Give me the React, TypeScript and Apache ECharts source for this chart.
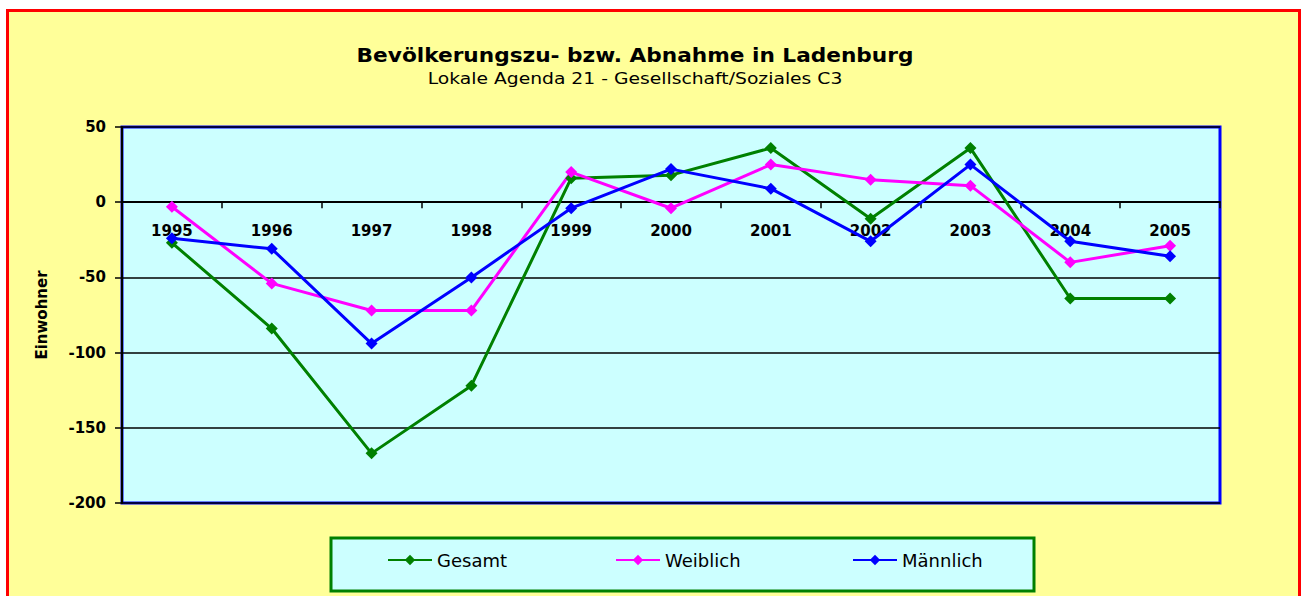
import React, { useEffect, useRef } from "react";
import * as echarts from "echarts";

const years = ["1995", "1996", "1997", "1998", "1999", "2000", "2001", "2002", "2003", "2004", "2005"];
const gesamt = [-27, -84, -167, -122, 16, 18, 36, -11, 36, -64, -64];
const weiblich = [-3, -54, -72, -72, 20, -4, 25, 15, 11, -40, -29];
const maennlich = [-24, -31, -94, -50, -4, 22, 9, -26, 25, -26, -36];
const seriesNames = ["Gesamt", "Weiblich", "Männlich"];
const seriesColors = ["#008000", "#FF00FF", "#0000FF"];

const FONT = "'DejaVu Sans', sans-serif";

export default function App() {
  const ref = useRef<HTMLDivElement>(null);
  useEffect(() => {
    if (!ref.current) return;
    const chart = echarts.init(ref.current, null, { renderer: "svg" });
    const data = [gesamt, weiblich, maennlich];
    const legendLefts = [382, 610, 847];
    chart.setOption({
      animation: false,
      backgroundColor: "#FFFFFF",
      graphic: [
        {
          type: "rect",
          z: -100,
          silent: true,
          shape: { x: 7.5, y: 10.5, width: 1292, height: 620 },
          style: { fill: "#FFFF99", stroke: "#FF0000", lineWidth: 3 },
        },
        {
          type: "rect",
          z: -50,
          silent: true,
          shape: { x: 331, y: 538, width: 703, height: 53 },
          style: { fill: "#CCFFFF", stroke: "#008000", lineWidth: 3 },
        },
        {
          type: "text",
          x: 635,
          y: 46,
          scaleX: 1.14,
          style: {
            text: "Bevölkerungszu- bzw. Abnahme in Ladenburg",
            font: `bold 19px ${FONT}`,
            fill: "#000",
            textAlign: "center",
          },
        },
        {
          type: "text",
          x: 635,
          y: 71,
          scaleX: 1.25,
          style: {
            text: "Lokale Agenda 21 - Gesellschaft/Soziales C3",
            font: `15px ${FONT}`,
            fill: "#000",
            textAlign: "center",
          },
        },
      ],
      legend: seriesNames.map((n, i) => ({
        data: [n],
        left: legendLefts[i],
        top: 546,
        itemWidth: 44,
        itemHeight: 13,
        itemGap: 5,
        textStyle: { fontSize: 18, fontFamily: FONT, color: "#000" },
      })),
      grid: {
        left: 122,
        top: 127,
        width: 1098,
        height: 376,
        show: true,
        backgroundColor: "#CCFFFF",
        borderColor: "#0000FF",
        borderWidth: 3,
      },
      xAxis: {
        type: "category",
        data: years,
        boundaryGap: true,
        offset: -300.8,
        axisLine: { onZero: false, lineStyle: { color: "#000", width: 2 } },
        axisTick: { show: true, length: 6, lineStyle: { color: "#000", width: 1.5 } },
        axisLabel: {
          margin: 21,
          fontSize: 15,
          fontWeight: "bold",
          fontFamily: FONT,
          color: "#000",
        },
        splitLine: { show: false },
      },
      yAxis: {
        type: "value",
        min: -200,
        max: 50,
        interval: 50,
        name: "Einwohner",
        nameLocation: "middle",
        nameGap: 73,
        nameRotate: 90,
        nameTextStyle: { fontSize: 15, fontWeight: "bold", fontFamily: FONT, color: "#000" },
        axisLine: { show: true, lineStyle: { color: "#000", width: 2 } },
        axisTick: { show: true, length: 7, lineStyle: { color: "#000", width: 1.5 } },
        axisLabel: {
          margin: 16,
          fontSize: 15,
          fontWeight: "bold",
          fontFamily: FONT,
          color: "#000",
        },
        splitLine: { show: true, lineStyle: { color: "#000", width: 1.5 } },
      },
      series: seriesNames.map((n, i) => ({
        name: n,
        type: "line",
        data: data[i],
        symbol: "diamond",
        symbolSize: 12,
        itemStyle: { color: seriesColors[i] },
        lineStyle: { color: seriesColors[i], width: 3 },
      })),
    });
    return () => chart.dispose();
  }, []);
  return (
    <div
      ref={ref}
      style={{ position: "fixed", left: 0, top: 0, width: 1303, height: 596 }}
    />
  );
}
